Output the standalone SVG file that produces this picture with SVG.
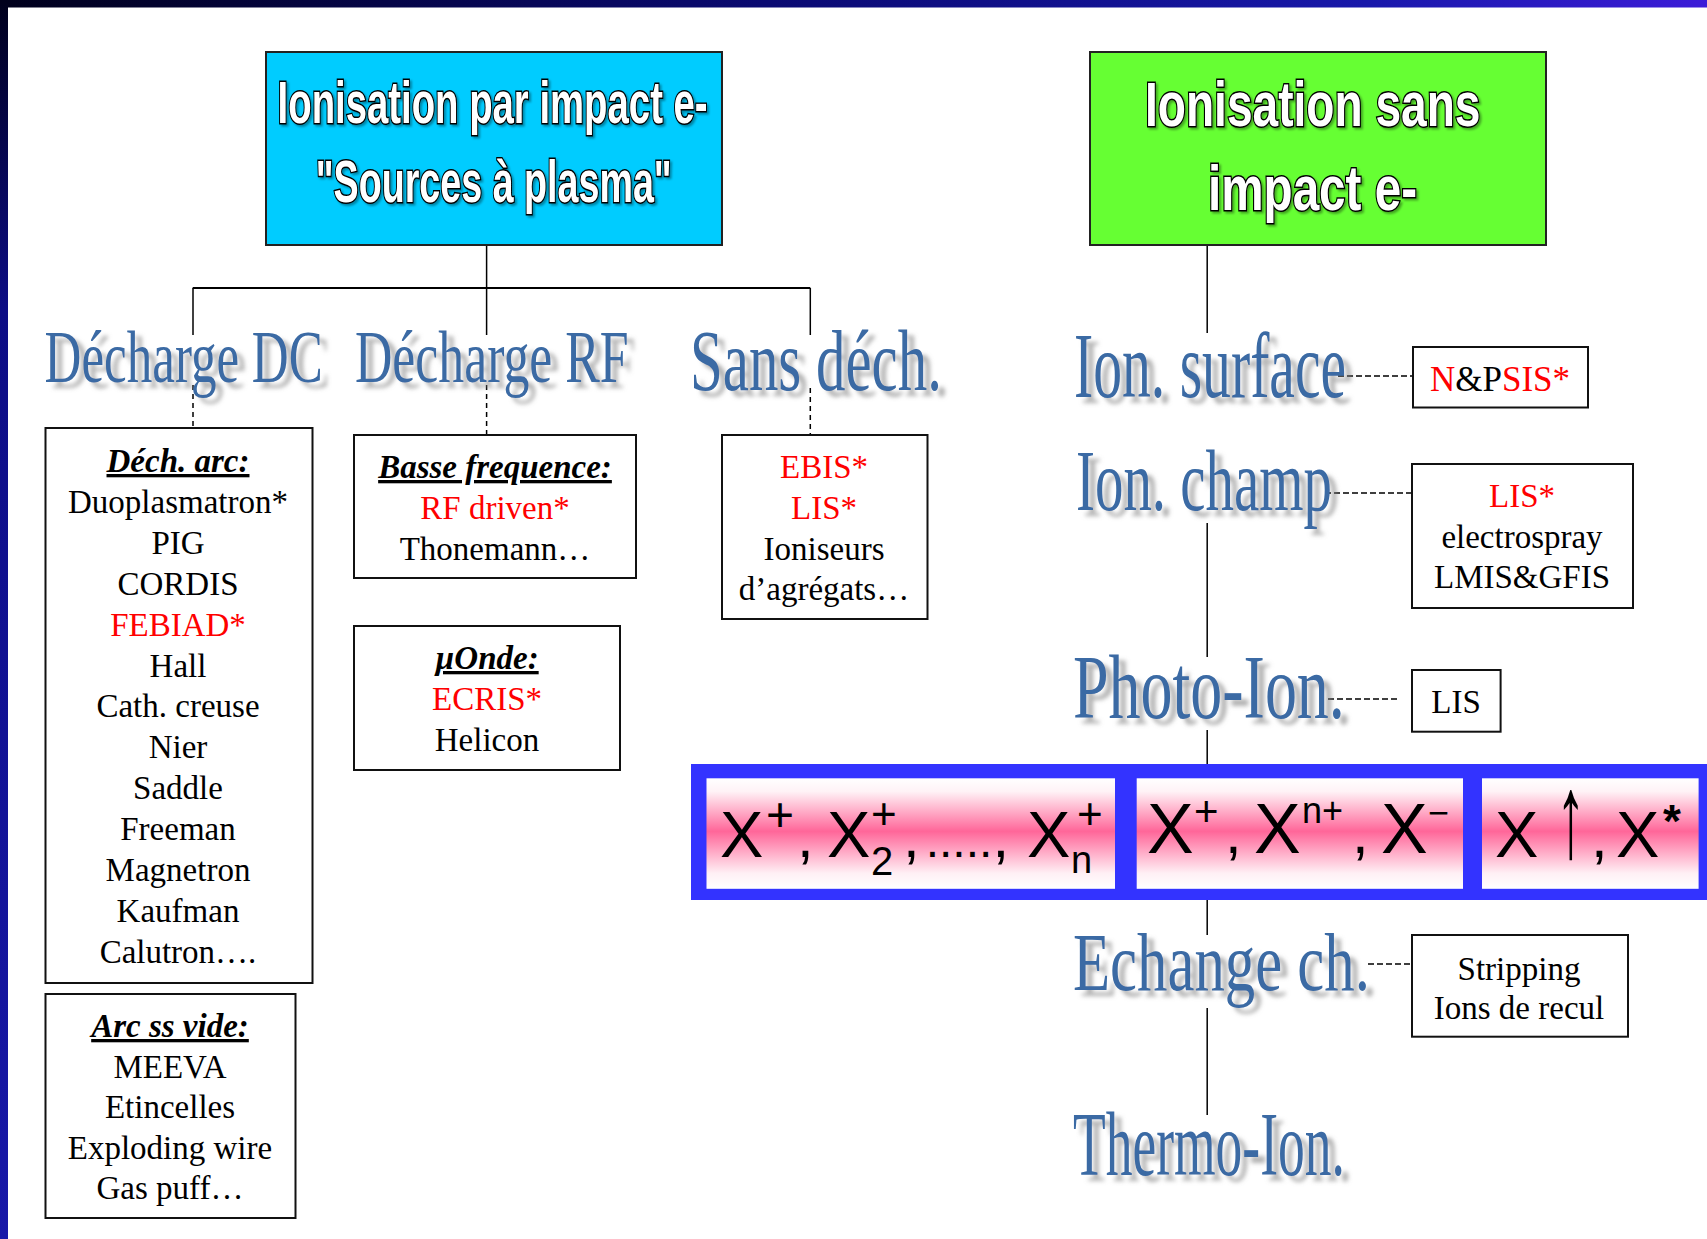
<svg xmlns="http://www.w3.org/2000/svg" width="1707" height="1239" viewBox="0 0 1707 1239">
<defs>
<style>
.box{fill:#fff;stroke:#111;stroke-width:2}
.t{font-family:"Liberation Serif","Times New Roman",serif;font-size:33px;fill:#000;text-anchor:middle}
.hd{font-weight:bold;font-style:italic;text-decoration:underline}
.r{fill:#ff0000}
.h{font-family:"Liberation Serif","Times New Roman",serif;fill:#3a6aa4}
.title{font-family:"Liberation Sans",Arial,sans-serif;font-weight:bold;fill:#fff;stroke:#000;stroke-width:3;paint-order:stroke}
.ln{stroke:#000;stroke-width:1.5;fill:none}
.dv{stroke:#000;stroke-width:1.5;stroke-dasharray:5 4;fill:none}
.dh{stroke:#000;stroke-width:1.5;stroke-dasharray:6 3;fill:none}
.ion{font-family:"Liberation Sans",Arial,sans-serif;fill:#000}
.cell{fill:url(#pink)}
</style>
<linearGradient id="topbar" x1="0" y1="0" x2="1" y2="0">
<stop offset="0" stop-color="#00001c"/>
<stop offset="0.45" stop-color="#0a0a72"/>
<stop offset="0.8" stop-color="#1818aa"/>
<stop offset="1" stop-color="#3c1cd8"/>
</linearGradient>
<linearGradient id="leftbar" x1="0" y1="0" x2="0" y2="1">
<stop offset="0" stop-color="#00001c"/>
<stop offset="0.25" stop-color="#0d0d85"/>
<stop offset="1" stop-color="#1818a8"/>
</linearGradient>
<linearGradient id="pink" x1="0" y1="0" x2="0" y2="1">
<stop offset="0" stop-color="#ffffff"/>
<stop offset="0.12" stop-color="#fff2f6"/>
<stop offset="0.48" stop-color="#ff6699"/>
<stop offset="0.86" stop-color="#fff0f5"/>
<stop offset="1" stop-color="#ffffff"/>
</linearGradient>
<filter id="sh" x="-10%" y="-20%" width="130%" height="160%">
<feDropShadow dx="7" dy="6" stdDeviation="2" flood-color="#808080" flood-opacity="0.6"/>
</filter>
<filter id="sh2" x="-10%" y="-20%" width="130%" height="160%">
<feDropShadow dx="2" dy="2" stdDeviation="1" flood-color="#000" flood-opacity="0.35"/>
</filter>
</defs>

<rect x="0" y="0" width="1707" height="1239" fill="#fff"/>
<rect x="0" y="0" width="1707" height="7.5" fill="url(#topbar)"/>
<rect x="0" y="0" width="8" height="1239" fill="url(#leftbar)"/>

<g id="connectors">
<line class="ln" x1="486.6" y1="245" x2="486.6" y2="288"/>
<line class="ln" x1="192.7" y1="288" x2="810.3" y2="288" style="stroke-width:2"/>
<line class="ln" x1="193" y1="288" x2="193" y2="335"/>
<line class="ln" x1="486.6" y1="288" x2="486.6" y2="335"/>
<line class="ln" x1="810.3" y1="288" x2="810.3" y2="335"/>
<line class="dv" x1="193" y1="385" x2="193" y2="428"/>
<line class="dv" x1="486.6" y1="385" x2="486.6" y2="435"/>
<line class="dv" x1="810.3" y1="388" x2="810.3" y2="435"/>
<line class="ln" x1="1207.2" y1="245" x2="1207.2" y2="333"/>
<line class="ln" x1="1207.2" y1="523" x2="1207.2" y2="657"/>
<line class="ln" x1="1207.2" y1="730" x2="1207.2" y2="764"/>
<line class="ln" x1="1207.2" y1="900" x2="1207.2" y2="935"/>
<line class="ln" x1="1207.2" y1="1008" x2="1207.2" y2="1115"/>
<line class="dh" x1="1338" y1="376" x2="1412" y2="376"/>
<line class="dh" x1="1325" y1="493" x2="1412" y2="493"/>
<line class="dh" x1="1328" y1="699" x2="1397" y2="699"/>
<line class="dh" x1="1368" y1="964" x2="1412" y2="964"/>
</g>

<g id="node-impact">
<rect x="266" y="52" width="456" height="193" fill="#00ccff" stroke="#222" stroke-width="2"/>
<g filter="url(#sh2)">
<text class="title" x="277.6" y="123" font-size="60" textLength="430" lengthAdjust="spacingAndGlyphs">Ionisation par impact e-</text>
<text class="title" x="315.7" y="201.7" font-size="60" textLength="356" lengthAdjust="spacingAndGlyphs">"Sources à plasma"</text>
</g>
</g>

<g id="node-sans-impact">
<rect x="1090" y="52" width="456" height="193" fill="#66ff33" stroke="#222" stroke-width="2"/>
<g filter="url(#sh2)">
<text class="title" x="1145" y="126" font-size="63" textLength="335.5" lengthAdjust="spacingAndGlyphs">Ionisation sans</text>
<text class="title" x="1208" y="210" font-size="63" textLength="209" lengthAdjust="spacingAndGlyphs">impact e-</text>
</g>
</g>

<g id="node-decharge-dc" filter="url(#sh)">
<text class="h" font-size="73" transform="translate(44.6 381.7) scale(0.699 1)">Décharge DC</text>
</g>
<g id="node-decharge-rf" filter="url(#sh)">
<text class="h" font-size="73" transform="translate(355 381.7) scale(0.709 1)">Décharge RF</text>
</g>
<g id="node-sans-dech" filter="url(#sh)">
<text class="h" font-size="86" transform="translate(690 390) scale(0.685 1)">Sans déch.</text>
</g>

<g id="node-dech-arc">
<rect class="box" x="45.5" y="428" width="267" height="555"/>
<text class="t hd" x="178" y="472">Déch. arc:</text>
<text class="t" x="178" y="512.9">Duoplasmatron*</text>
<text class="t" x="178" y="553.8">PIG</text>
<text class="t" x="178" y="594.7">CORDIS</text>
<text class="t r" x="178" y="635.6">FEBIAD*</text>
<text class="t" x="178" y="676.5">Hall</text>
<text class="t" x="178" y="717.4">Cath. creuse</text>
<text class="t" x="178" y="758.3">Nier</text>
<text class="t" x="178" y="799.2">Saddle</text>
<text class="t" x="178" y="840.1">Freeman</text>
<text class="t" x="178" y="881">Magnetron</text>
<text class="t" x="178" y="921.9">Kaufman</text>
<text class="t" x="178" y="962.8">Calutron….</text>
</g>

<g id="node-arc-vide">
<rect class="box" x="45.5" y="994" width="250" height="224"/>
<text class="t hd" x="170" y="1037">Arc ss vide:</text>
<text class="t" x="170" y="1077.5">MEEVA</text>
<text class="t" x="170" y="1118">Etincelles</text>
<text class="t" x="170" y="1158.5">Exploding wire</text>
<text class="t" x="170" y="1199">Gas puff…</text>
</g>

<g id="node-basse-freq">
<rect class="box" x="354" y="435" width="282" height="143"/>
<text class="t hd" x="495" y="478">Basse frequence:</text>
<text class="t r" x="495" y="519">RF driven*</text>
<text class="t" x="495" y="560">Thonemann…</text>
</g>

<g id="node-uonde">
<rect class="box" x="354" y="626" width="266" height="144"/>
<text class="t hd" x="487" y="669">µOnde:</text>
<text class="t r" x="487" y="710">ECRIS*</text>
<text class="t" x="487" y="751">Helicon</text>
</g>

<g id="node-ebis">
<rect class="box" x="722" y="435" width="205.5" height="184"/>
<text class="t r" x="824" y="478">EBIS*</text>
<text class="t r" x="824" y="519">LIS*</text>
<text class="t" x="824" y="560">Ioniseurs</text>
<text class="t" x="824" y="600">d’agrégats…</text>
</g>

<g id="node-ion-surface" filter="url(#sh)">
<text class="h" font-size="93" transform="translate(1074 396.7) scale(0.62 1)">Ion. surface</text>
</g>
<g id="node-npsis">
<rect class="box" x="1413" y="347" width="175" height="60.5"/>
<text class="t" x="1500" y="391" style="font-size:35px"><tspan class="r">N</tspan>&amp;P<tspan class="r">SIS*</tspan></text>
</g>

<g id="node-ion-champ" filter="url(#sh)">
<text class="h" font-size="86" transform="translate(1076 510) scale(0.662 1)">Ion. champ</text>
</g>
<g id="node-lis-electrospray">
<rect class="box" x="1412" y="464" width="221" height="144"/>
<text class="t r" x="1522" y="506.7">LIS*</text>
<text class="t" x="1522" y="548.3">electrospray</text>
<text class="t" x="1522" y="588.3">LMIS&amp;GFIS</text>
</g>

<g id="node-photo-ion" filter="url(#sh)">
<text class="h" font-size="91" transform="translate(1073 718) scale(0.703 1)">Photo-Ion.</text>
</g>
<g id="node-lis">
<rect class="box" x="1412" y="670" width="88.6" height="61.7"/>
<text class="t" x="1456" y="713">LIS</text>
</g>

<g id="node-ions-band">
<rect x="691" y="764" width="1016" height="136" fill="#3333ff"/>
<rect class="cell" x="706.5" y="778.3" width="408.5" height="110.5"/>
<rect class="cell" x="1136.7" y="778.3" width="326.3" height="110.5"/>
<rect class="cell" x="1482" y="778.3" width="216.6" height="110.5"/>
<text class="ion" font-size="65"><tspan x="720" y="857">X</tspan><tspan x="766" y="831" font-size="48">+</tspan><tspan x="797" y="857" font-size="60">,</tspan><tspan x="827" y="857">X</tspan><tspan x="871" y="875" font-size="40">2</tspan><tspan x="871" y="829" font-size="44">+</tspan><tspan x="903" y="857" font-size="60">,</tspan><tspan x="925.7" y="857" font-size="48">.....</tspan><tspan x="992.5" y="857" font-size="60">,</tspan><tspan x="1027" y="857">X</tspan><tspan x="1071" y="873" font-size="38">n</tspan><tspan x="1077" y="829" font-size="44">+</tspan></text>
<text class="ion" font-size="70"><tspan x="1147" y="853">X</tspan><tspan x="1194" y="826" font-size="42">+</tspan><tspan x="1225" y="853" font-size="60">,</tspan><tspan x="1254" y="853">X</tspan><tspan x="1302" y="823" font-size="36">n+</tspan><tspan x="1352" y="853" font-size="60">,</tspan><tspan x="1381" y="853">X</tspan><tspan x="1428" y="825" font-size="36">−</tspan></text>
<text class="ion" x="1495" y="857" font-size="65">X</text>
<text class="ion" font-size="66" transform="translate(1556 857) scale(0.9 1.8)">↑</text>
<text class="ion" font-size="65"><tspan x="1591" y="857" font-size="60">,</tspan><tspan x="1616" y="857">X</tspan><tspan x="1663" y="837" font-size="46" font-weight="bold">*</tspan></text>
</g>

<g id="node-echange" filter="url(#sh)">
<text class="h" font-size="82" transform="translate(1073 990) scale(0.741 1)">Echange ch.</text>
</g>
<g id="node-stripping">
<rect class="box" x="1412" y="935" width="216" height="101.7"/>
<text class="t" x="1519" y="980">Stripping</text>
<text class="t" x="1519" y="1019">Ions de recul</text>
</g>

<g id="node-thermo-ion" filter="url(#sh)">
<text class="h" font-size="91" transform="translate(1073 1175) scale(0.588 1)">Thermo-Ion.</text>
</g>
</svg>
